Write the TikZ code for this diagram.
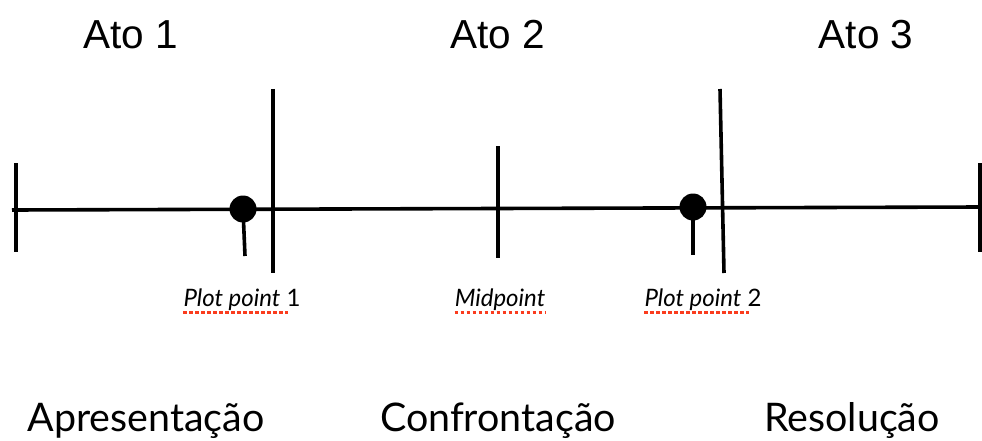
\documentclass[tikz,border=0pt]{standalone}
\usepackage{fontspec}
\setmainfont{Lato}
\newfontfamily\atofont{Liberation Sans}
\begin{document}
\begin{tikzpicture}[x=1pt,y=-1pt,
  bar/.style={line width=3.6pt},
  dotnode/.style={circle,fill=black,inner sep=0pt,minimum size=27pt},
  act/.style={inner sep=0pt,anchor=base,font=\atofont\fontsize{40.5}{40.5}\selectfont},
  phase/.style={inner sep=0pt,anchor=base,font=\fontsize{39.4}{39.4}\selectfont},
  lbl/.style={inner sep=0pt,anchor=base,font=\fontsize{24}{24}\selectfont},
  spell/.style={draw={rgb,255:red,250;green,60;blue,30},line width=2.6pt,dash pattern=on 3.5pt off 2.5pt}]
\useasboundingbox (0,0) rectangle (982,441);
% axis
\coordinate (axL) at (12,210);
\coordinate (axR) at (982,207);
\draw[bar] (axL) -- (axR);
% ticks and act borders
\coordinate (t1a) at (16,163); \coordinate (t1b) at (16,252);
\coordinate (t2a) at (980,163); \coordinate (t2b) at (980,252);
\coordinate (b1a) at (273,89); \coordinate (b1b) at (273,273);
\coordinate (b2a) at (720,89); \coordinate (b2b) at (724,273);
\coordinate (m1a) at (498,146); \coordinate (m1b) at (498,258);
\draw[bar] (t1a) -- (t1b);
\draw[bar] (t2a) -- (t2b);
\draw[bar] (b1a) -- (b1b);
\draw[bar] (b2a) -- (b2b);
\draw[bar] (m1a) -- (m1b);
% plot points
\node[dotnode] (d1) at (243,209) {};
\node[dotnode] (d2) at (693,207) {};
\coordinate (s1) at (245,256);
\coordinate (s2) at (693,255);
\draw[bar] (d1.center) -- (s1);
\draw[bar] (d2.center) -- (s2);
% acts
\node[act] (a1) at (131,49) {Ato 1};
\node[act] (a2) at (498,49) {Ato 2};
\node[act] (a3) at (866,49) {Ato 3};
% labels
\node[lbl] (p1) at (242,306) {\textit{Plot point} 1};
\node[lbl] (mp) at (500,306) {\textit{Midpoint}};
\node[lbl] (p2) at (703,306) {\textit{Plot point} 2};
\draw[spell] ([yshift=-6.5pt]p1.base west) -- ([yshift=-6.5pt,xshift=-13pt]p1.base east);
\draw[spell] ([yshift=-6.5pt]mp.base west) -- ([yshift=-6.5pt]mp.base east);
\draw[spell] ([yshift=-6.5pt]p2.base west) -- ([yshift=-6.5pt,xshift=-13pt]p2.base east);
% phases
\node[phase] (f1) at (146,431) {Apresentação};
\node[phase] (f2) at (498,431) {Confrontação};
\node[phase] (f3) at (852,431) {Resolução};
\end{tikzpicture}
\end{document}
